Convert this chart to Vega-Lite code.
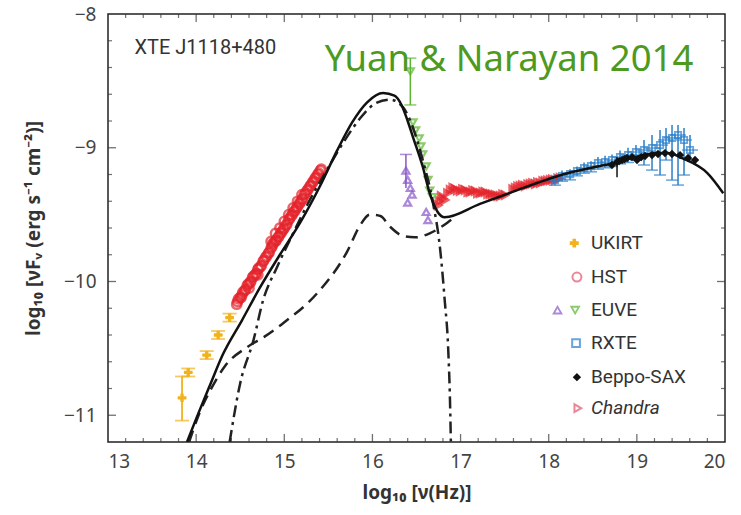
{
  "$schema": "https://vega.github.io/schema/vega-lite/v6.json",
  "width": 617,
  "height": 428,
  "autosize": {"type": "none"},
  "padding": {"left": 108, "top": 14, "right": 16, "bottom": 73},
  "background": "white",
  "config": {
    "view": {"stroke": "#222", "strokeWidth": 1.5},
    "axis": {"grid": false, "domain": false, "ticks": false, "labelFont": "Noto Sans", "labelFontSize": 19, "labelColor": "#444", "titleFont": "Noto Sans", "titleFontSize": 19, "titleFontWeight": "bold", "titleColor": "#333"}
  },
  "datasets": {
    "xmaj": [{"v":14,"edge":-11.2},{"v":15,"edge":-11.2},{"v":16,"edge":-11.2},{"v":17,"edge":-11.2},{"v":18,"edge":-11.2},{"v":19,"edge":-11.2},{"v":14,"edge":-8},{"v":15,"edge":-8},{"v":16,"edge":-8},{"v":17,"edge":-8},{"v":18,"edge":-8},{"v":19,"edge":-8}],
    "xmin": [{"v":13.2,"edge":-11.2},{"v":13.4,"edge":-11.2},{"v":13.6,"edge":-11.2},{"v":13.8,"edge":-11.2},{"v":14.2,"edge":-11.2},{"v":14.4,"edge":-11.2},{"v":14.6,"edge":-11.2},{"v":14.8,"edge":-11.2},{"v":15.2,"edge":-11.2},{"v":15.4,"edge":-11.2},{"v":15.6,"edge":-11.2},{"v":15.8,"edge":-11.2},{"v":16.2,"edge":-11.2},{"v":16.4,"edge":-11.2},{"v":16.6,"edge":-11.2},{"v":16.8,"edge":-11.2},{"v":17.2,"edge":-11.2},{"v":17.4,"edge":-11.2},{"v":17.6,"edge":-11.2},{"v":17.8,"edge":-11.2},{"v":18.2,"edge":-11.2},{"v":18.4,"edge":-11.2},{"v":18.6,"edge":-11.2},{"v":18.8,"edge":-11.2},{"v":19.2,"edge":-11.2},{"v":19.4,"edge":-11.2},{"v":19.6,"edge":-11.2},{"v":19.8,"edge":-11.2},
      {"v":13.2,"edge":-8},{"v":13.4,"edge":-8},{"v":13.6,"edge":-8},{"v":13.8,"edge":-8},{"v":14.2,"edge":-8},{"v":14.4,"edge":-8},{"v":14.6,"edge":-8},{"v":14.8,"edge":-8},{"v":15.2,"edge":-8},{"v":15.4,"edge":-8},{"v":15.6,"edge":-8},{"v":15.8,"edge":-8},{"v":16.2,"edge":-8},{"v":16.4,"edge":-8},{"v":16.6,"edge":-8},{"v":16.8,"edge":-8},{"v":17.2,"edge":-8},{"v":17.4,"edge":-8},{"v":17.6,"edge":-8},{"v":17.8,"edge":-8},{"v":18.2,"edge":-8},{"v":18.4,"edge":-8},{"v":18.6,"edge":-8},{"v":18.8,"edge":-8},{"v":19.2,"edge":-8},{"v":19.4,"edge":-8},{"v":19.6,"edge":-8},{"v":19.8,"edge":-8}],
    "ymaj": [{"v":-9,"edge":13},{"v":-10,"edge":13},{"v":-11,"edge":13},{"v":-9,"edge":20},{"v":-10,"edge":20},{"v":-11,"edge":20}],
    "ymin": [{"v":-8.2,"edge":13},{"v":-8.4,"edge":13},{"v":-8.6,"edge":13},{"v":-8.8,"edge":13},{"v":-9.2,"edge":13},{"v":-9.4,"edge":13},{"v":-9.6,"edge":13},{"v":-9.8,"edge":13},{"v":-10.2,"edge":13},{"v":-10.4,"edge":13},{"v":-10.6,"edge":13},{"v":-10.8,"edge":13},
      {"v":-8.2,"edge":20},{"v":-8.4,"edge":20},{"v":-8.6,"edge":20},{"v":-8.8,"edge":20},{"v":-9.2,"edge":20},{"v":-9.4,"edge":20},{"v":-9.6,"edge":20},{"v":-9.8,"edge":20},{"v":-10.2,"edge":20},{"v":-10.4,"edge":20},{"v":-10.6,"edge":20},{"v":-10.8,"edge":20}],
    "solid": [{"x":13.896,"y":-11.2},{"x":14.01,"y":-11.01},{"x":14.16,"y":-10.77},{"x":14.30,"y":-10.55},{"x":14.52,"y":-10.29},{"x":14.72,"y":-10.05},{"x":14.95,"y":-9.80},{"x":15.18,"y":-9.56},{"x":15.41,"y":-9.28},{"x":15.60,"y":-9.02},{"x":15.77,"y":-8.81},{"x":15.94,"y":-8.66},{"x":16.12,"y":-8.59},{"x":16.25,"y":-8.61},{"x":16.33,"y":-8.68},{"x":16.40,"y":-8.80},{"x":16.46,"y":-8.92},{"x":16.57,"y":-9.14},{"x":16.65,"y":-9.34},{"x":16.74,"y":-9.48},{"x":16.82,"y":-9.52},{"x":17.22,"y":-9.42},{"x":17.59,"y":-9.33},{"x":18.16,"y":-9.20},{"x":18.77,"y":-9.11},{"x":19.23,"y":-9.04},{"x":19.35,"y":-9.04},{"x":19.52,"y":-9.08},{"x":19.80,"y":-9.19},{"x":19.98,"y":-9.34}],
    "dashed": [{"x":13.92,"y":-11.2},{"x":14.04,"y":-10.98},{"x":14.18,"y":-10.79},{"x":14.33,"y":-10.63},{"x":14.58,"y":-10.49},{"x":14.78,"y":-10.41},{"x":14.99,"y":-10.31},{"x":15.37,"y":-10.09},{"x":15.71,"y":-9.78},{"x":15.86,"y":-9.58},{"x":15.97,"y":-9.50},{"x":16.09,"y":-9.51},{"x":16.20,"y":-9.59},{"x":16.35,"y":-9.66},{"x":16.48,"y":-9.67},{"x":16.65,"y":-9.64},{"x":16.85,"y":-9.56},{"x":16.95,"y":-9.51}],
    "dashdot": [{"x":14.38,"y":-11.2},{"x":14.50,"y":-10.76},{"x":14.65,"y":-10.44},{"x":14.76,"y":-10.14},{"x":14.92,"y":-9.89},{"x":15.10,"y":-9.64},{"x":15.29,"y":-9.39},{"x":15.48,"y":-9.17},{"x":15.69,"y":-8.94},{"x":15.86,"y":-8.78},{"x":16.03,"y":-8.67},{"x":16.20,"y":-8.64},{"x":16.35,"y":-8.70},{"x":16.46,"y":-8.85},{"x":16.57,"y":-9.09},{"x":16.68,"y":-9.39},{"x":16.77,"y":-9.77},{"x":16.82,"y":-10.14},{"x":16.86,"y":-10.51},{"x":16.88,"y":-10.89},{"x":16.89,"y":-11.2}],
    "ukirt": [{"x":13.84,"y":-10.87,"ylo":-11.04,"yhi":-10.71,"xlo":13.79,"xhi":13.89},{"x":13.91,"y":-10.68,"ylo":-10.71,"yhi":-10.65,"xlo":13.86,"xhi":13.96},{"x":14.12,"y":-10.55,"ylo":-10.58,"yhi":-10.52,"xlo":14.07,"xhi":14.17},{"x":14.25,"y":-10.40,"ylo":-10.43,"yhi":-10.37,"xlo":14.20,"xhi":14.30},{"x":14.38,"y":-10.27,"ylo":-10.30,"yhi":-10.24,"xlo":14.33,"xhi":14.43}],
    "hst": [{"x":14.46,"y":-10.17},{"x":14.47,"y":-10.15},{"x":14.48,"y":-10.13},{"x":14.50,"y":-10.12},{"x":14.51,"y":-10.12},{"x":14.52,"y":-10.10},{"x":14.53,"y":-10.08},{"x":14.55,"y":-10.07},{"x":14.56,"y":-10.06},{"x":14.58,"y":-10.03},{"x":14.59,"y":-10.02},{"x":14.61,"y":-10.01},{"x":14.62,"y":-10.00},{"x":14.64,"y":-9.97},{"x":14.65,"y":-9.96},{"x":14.67,"y":-9.95},{"x":14.68,"y":-9.94},{"x":14.70,"y":-9.91},{"x":14.71,"y":-9.90},{"x":14.73,"y":-9.89},{"x":14.74,"y":-9.88},{"x":14.76,"y":-9.85},{"x":14.77,"y":-9.84},{"x":14.79,"y":-9.82},{"x":14.80,"y":-9.81},{"x":14.82,"y":-9.79},{"x":14.83,"y":-9.78},{"x":14.85,"y":-9.75},{"x":14.86,"y":-9.74},{"x":14.87,"y":-9.72},{"x":14.88,"y":-9.71},{"x":14.90,"y":-9.70},{"x":14.91,"y":-9.69},{"x":14.93,"y":-9.67},{"x":14.94,"y":-9.66},{"x":14.96,"y":-9.64},{"x":14.97,"y":-9.63},{"x":14.99,"y":-9.61},{"x":15.00,"y":-9.60},{"x":15.02,"y":-9.58},{"x":15.03,"y":-9.57},{"x":15.05,"y":-9.54},{"x":15.06,"y":-9.53},{"x":15.08,"y":-9.51},{"x":15.09,"y":-9.50},{"x":15.11,"y":-9.48},{"x":15.12,"y":-9.47},{"x":15.14,"y":-9.45},{"x":15.15,"y":-9.44},{"x":15.17,"y":-9.42},{"x":15.18,"y":-9.41},{"x":15.20,"y":-9.39},{"x":15.21,"y":-9.38},{"x":15.23,"y":-9.35},{"x":15.24,"y":-9.34},{"x":15.26,"y":-9.32},{"x":15.27,"y":-9.31},{"x":15.29,"y":-9.29},{"x":15.30,"y":-9.28},{"x":15.32,"y":-9.26},{"x":15.33,"y":-9.25},{"x":15.35,"y":-9.23},{"x":15.36,"y":-9.22},{"x":15.38,"y":-9.20},{"x":15.39,"y":-9.19},{"x":15.41,"y":-9.17},{"x":15.42,"y":-9.16},{"x":14.85,"y":-9.70},{"x":14.90,"y":-9.64},{"x":14.95,"y":-9.60},{"x":15.00,"y":-9.55},{"x":15.05,"y":-9.50},{"x":15.10,"y":-9.45},{"x":15.15,"y":-9.40},{"x":15.20,"y":-9.35},{"x":14.60,"y":-10.05},{"x":14.70,"y":-9.95}],
    "euveg": [{"x":16.43,"y":-8.43,"ylo":-8.68,"yhi":-8.33},{"x":16.46,"y":-8.81},{"x":16.49,"y":-8.87},{"x":16.53,"y":-8.93},{"x":16.55,"y":-8.99},{"x":16.57,"y":-9.05},{"x":16.61,"y":-9.14},{"x":16.63,"y":-9.24},{"x":16.65,"y":-9.32},{"x":16.68,"y":-9.37}],
    "euvep": [{"x":16.38,"y":-9.17,"ylo":-9.30,"yhi":-9.05},{"x":16.40,"y":-9.24},{"x":16.43,"y":-9.30},{"x":16.45,"y":-9.35},{"x":16.40,"y":-9.41},{"x":16.61,"y":-9.48},{"x":16.63,"y":-9.54}],
    "chandra": [{"x":16.744,"y":-9.429},{"x":16.76,"y":-9.40},{"x":16.778,"y":-9.361},{"x":16.80,"y":-9.38},{"x":16.823,"y":-9.391},{"x":16.85,"y":-9.34},{"x":16.88,"y":-9.316},{"x":16.91,"y":-9.30},{"x":16.937,"y":-9.309},{"x":16.96,"y":-9.32},{"x":16.994,"y":-9.324},{"x":17.02,"y":-9.31},{"x":17.05,"y":-9.316},{"x":17.08,"y":-9.33},{"x":17.107,"y":-9.331},{"x":17.135,"y":-9.32},{"x":17.164,"y":-9.324},{"x":17.19,"y":-9.34},{"x":17.221,"y":-9.339},{"x":17.25,"y":-9.33},{"x":17.277,"y":-9.331},{"x":17.305,"y":-9.345},{"x":17.334,"y":-9.346},{"x":17.36,"y":-9.35},{"x":17.391,"y":-9.354},{"x":17.42,"y":-9.36},{"x":17.448,"y":-9.361},{"x":17.475,"y":-9.35},{"x":17.504,"y":-9.354},{"x":17.59,"y":-9.31},{"x":17.618,"y":-9.301},{"x":17.645,"y":-9.29},{"x":17.674,"y":-9.286},{"x":17.70,"y":-9.28},{"x":17.731,"y":-9.286},{"x":17.76,"y":-9.275},{"x":17.788,"y":-9.271},{"x":17.815,"y":-9.265},{"x":17.845,"y":-9.271},{"x":17.87,"y":-9.26},{"x":17.901,"y":-9.264},{"x":17.93,"y":-9.25},{"x":17.958,"y":-9.249},{"x":17.985,"y":-9.245},{"x":18.015,"y":-9.242},{"x":18.04,"y":-9.238},{"x":18.071,"y":-9.242},{"x":18.10,"y":-9.23},{"x":18.128,"y":-9.227}],
    "rxte": [{"x":18.071,"y":-9.242,"ylo":-9.28,"yhi":-9.20},{"x":18.151,"y":-9.212,"ylo":-9.25,"yhi":-9.17},{"x":18.242,"y":-9.197,"ylo":-9.24,"yhi":-9.16},{"x":18.321,"y":-9.174,"ylo":-9.21,"yhi":-9.14},{"x":18.401,"y":-9.152,"ylo":-9.19,"yhi":-9.11},{"x":18.48,"y":-9.137,"ylo":-9.18,"yhi":-9.10},{"x":18.559,"y":-9.114,"ylo":-9.16,"yhi":-9.07},{"x":18.639,"y":-9.107,"ylo":-9.15,"yhi":-9.06},{"x":18.718,"y":-9.092,"ylo":-9.14,"yhi":-9.05},{"x":18.809,"y":-9.07,"ylo":-9.12,"yhi":-9.02},{"x":18.90,"y":-9.055,"ylo":-9.11,"yhi":-9.00},{"x":18.99,"y":-9.032,"ylo":-9.092,"yhi":-8.98},{"x":19.081,"y":-9.017,"ylo":-9.129,"yhi":-8.942},{"x":19.172,"y":-9.002,"ylo":-9.167,"yhi":-8.905},{"x":19.263,"y":-8.98,"ylo":-9.204,"yhi":-8.868},{"x":19.331,"y":-8.942,"ylo":-9.092,"yhi":-8.853},{"x":19.399,"y":-8.927,"ylo":-9.242,"yhi":-8.83},{"x":19.467,"y":-8.905,"ylo":-9.279,"yhi":-8.83},{"x":19.535,"y":-8.942,"ylo":-9.204,"yhi":-8.853},{"x":19.603,"y":-9.017,"ylo":-9.092,"yhi":-8.905}],
    "sax": [{"x":18.718,"y":-9.129},{"x":18.775,"y":-9.107,"ylo":-9.22,"yhi":-9.07},{"x":18.80,"y":-9.10},{"x":18.832,"y":-9.092},{"x":18.86,"y":-9.085},{"x":18.888,"y":-9.077},{"x":18.945,"y":-9.07},{"x":19.002,"y":-9.092},{"x":19.05,"y":-9.07},{"x":19.093,"y":-9.062},{"x":19.172,"y":-9.055},{"x":19.24,"y":-9.047},{"x":19.319,"y":-9.04},{"x":19.399,"y":-9.047},{"x":19.49,"y":-9.055},{"x":19.581,"y":-9.077},{"x":19.66,"y":-9.092}],
    "legend": [{"label":"UKIRT","sx":18.29,"lx":18.48,"y":-9.713},{"label":"HST","sx":18.32,"lx":18.48,"y":-9.967},{"label":"EUVE","sx":18.30,"sx2":18.10,"lx":18.48,"y":-10.214},{"label":"RXTE","sx":18.31,"lx":18.48,"y":-10.461},{"label":"Beppo-SAX","sx":18.32,"lx":18.48,"y":-10.715},{"label":"Chandra","sx":18.33,"lx":18.48,"y":-10.947}],
    "notes": [{"text":"XTE J1118+480","x":13.3,"y":-8.254},{"text":"Yuan & Narayan 2014","x":15.46,"y":-8.344}]
  },
  "layer": [
    {
      "data": {"name": "hst"},
      "mark": {"type": "point", "shape": "circle", "filled": false, "stroke": "#e5232b", "strokeWidth": 2.5, "size": 85, "clip": true},
      "encoding": {
        "x": {"field": "x", "type": "quantitative", "scale": {"domain": [13, 20], "nice": false, "zero": false}, "axis": {"orient": "bottom", "values": [13,14,15,16,17,18,19,20], "format": "d", "labelPadding": 10, "title": "log₁₀ [ν(Hz)]", "titlePadding": 12}},
        "y": {"field": "y", "type": "quantitative", "scale": {"domain": [-11.2, -8], "nice": false, "zero": false}, "axis": {"orient": "left", "values": [-8,-9,-10,-11], "format": "d", "labelPadding": 12, "title": "log₁₀ [νFᵥ (erg s⁻¹ cm⁻²)]", "titlePadding": 20}}
      }
    },
    {
      "data": {"name": "xmaj"},
      "mark": {"type": "tick", "orient": "vertical", "color": "#333", "size": 16, "thickness": 1.3, "clip": true},
      "encoding": {"x": {"field": "v", "type": "quantitative"}, "y": {"field": "edge", "type": "quantitative"}}
    },
    {
      "data": {"name": "xmin"},
      "mark": {"type": "tick", "orient": "vertical", "color": "#333", "size": 8, "thickness": 1.2, "clip": true},
      "encoding": {"x": {"field": "v", "type": "quantitative"}, "y": {"field": "edge", "type": "quantitative"}}
    },
    {
      "data": {"name": "ymaj"},
      "mark": {"type": "tick", "orient": "horizontal", "color": "#333", "size": 16, "thickness": 1.3, "clip": true},
      "encoding": {"y": {"field": "v", "type": "quantitative"}, "x": {"field": "edge", "type": "quantitative"}}
    },
    {
      "data": {"name": "ymin"},
      "mark": {"type": "tick", "orient": "horizontal", "color": "#333", "size": 8, "thickness": 1.2, "clip": true},
      "encoding": {"y": {"field": "v", "type": "quantitative"}, "x": {"field": "edge", "type": "quantitative"}}
    },
    {
      "data": {"name": "chandra"},
      "mark": {"type": "point", "shape": "triangle-right", "filled": false, "stroke": "#e5232b", "strokeWidth": 3, "size": 40},
      "encoding": {"x": {"field": "x", "type": "quantitative"}, "y": {"field": "y", "type": "quantitative"}}
    },
    {
      "data": {"name": "ukirt"},
      "mark": {"type": "rule", "color": "#f2b21c", "strokeWidth": 1.8},
      "encoding": {"x": {"field": "x", "type": "quantitative"}, "y": {"field": "ylo", "type": "quantitative"}, "y2": {"field": "yhi"}}
    },
    {
      "data": {"name": "ukirt"},
      "mark": {"type": "tick", "orient": "horizontal", "color": "#f2b21c", "size": 14, "thickness": 1.8},
      "encoding": {"x": {"field": "x", "type": "quantitative"}, "y": {"field": "ylo", "type": "quantitative"}}
    },
    {
      "data": {"name": "ukirt"},
      "mark": {"type": "tick", "orient": "horizontal", "color": "#f2b21c", "size": 14, "thickness": 1.8},
      "encoding": {"x": {"field": "x", "type": "quantitative"}, "y": {"field": "yhi", "type": "quantitative"}}
    },
    {
      "data": {"name": "ukirt"},
      "mark": {"type": "rule", "color": "#f2b21c", "strokeWidth": 1.8},
      "encoding": {"x": {"field": "xlo", "type": "quantitative"}, "x2": {"field": "xhi"}, "y": {"field": "y", "type": "quantitative"}}
    },
    {
      "data": {"name": "ukirt"},
      "mark": {"type": "point", "shape": "cross", "filled": true, "color": "#f2b21c", "opacity": 1, "size": 70},
      "encoding": {"x": {"field": "x", "type": "quantitative"}, "y": {"field": "y", "type": "quantitative"}}
    },
    {
      "data": {"name": "euveg"},
      "mark": {"type": "rule", "color": "#5cb531", "strokeWidth": 1.5},
      "encoding": {"x": {"field": "x", "type": "quantitative"}, "y": {"field": "ylo", "type": "quantitative"}, "y2": {"field": "yhi"}}
    },
    {
      "data": {"name": "euveg"},
      "mark": {"type": "tick", "orient": "horizontal", "color": "#5cb531", "size": 12, "thickness": 1.5},
      "encoding": {"x": {"field": "x", "type": "quantitative"}, "y": {"field": "yhi", "type": "quantitative"}}
    },
    {
      "data": {"name": "euveg"},
      "mark": {"type": "tick", "orient": "horizontal", "color": "#5cb531", "size": 12, "thickness": 1.5},
      "encoding": {"x": {"field": "x", "type": "quantitative"}, "y": {"field": "ylo", "type": "quantitative"}}
    },
    {
      "data": {"name": "euveg"},
      "mark": {"type": "point", "shape": "triangle-down", "filled": false, "stroke": "#5cb531", "strokeWidth": 2.2, "size": 50},
      "encoding": {"x": {"field": "x", "type": "quantitative"}, "y": {"field": "y", "type": "quantitative"}}
    },
    {
      "data": {"name": "euvep"},
      "mark": {"type": "rule", "color": "#8856c8", "strokeWidth": 1.5},
      "encoding": {"x": {"field": "x", "type": "quantitative"}, "y": {"field": "ylo", "type": "quantitative"}, "y2": {"field": "yhi"}}
    },
    {
      "data": {"name": "euvep"},
      "mark": {"type": "tick", "orient": "horizontal", "color": "#8856c8", "size": 12, "thickness": 1.5},
      "encoding": {"x": {"field": "x", "type": "quantitative"}, "y": {"field": "yhi", "type": "quantitative"}}
    },
    {
      "data": {"name": "euvep"},
      "mark": {"type": "point", "shape": "triangle-up", "filled": false, "stroke": "#8856c8", "strokeWidth": 2.2, "size": 50},
      "encoding": {"x": {"field": "x", "type": "quantitative"}, "y": {"field": "y", "type": "quantitative"}}
    },
    {
      "data": {"name": "rxte"},
      "mark": {"type": "rule", "color": "#2a7fc9", "strokeWidth": 1.5},
      "encoding": {"x": {"field": "x", "type": "quantitative"}, "y": {"field": "ylo", "type": "quantitative"}, "y2": {"field": "yhi"}}
    },
    {
      "data": {"name": "rxte"},
      "mark": {"type": "tick", "orient": "horizontal", "color": "#2a7fc9", "size": 16, "thickness": 1.5},
      "encoding": {"x": {"field": "x", "type": "quantitative"}, "y": {"field": "y", "type": "quantitative"}}
    },
    {
      "data": {"name": "rxte"},
      "mark": {"type": "tick", "orient": "horizontal", "color": "#2a7fc9", "size": 12, "thickness": 1.5},
      "encoding": {"x": {"field": "x", "type": "quantitative"}, "y": {"field": "ylo", "type": "quantitative"}}
    },
    {
      "data": {"name": "rxte"},
      "mark": {"type": "point", "shape": "square", "filled": false, "stroke": "#2a7fc9", "strokeWidth": 1.8, "size": 40},
      "encoding": {"x": {"field": "x", "type": "quantitative"}, "y": {"field": "y", "type": "quantitative"}}
    },
    {
      "data": {"name": "sax"},
      "mark": {"type": "rule", "color": "#111", "strokeWidth": 1.5},
      "encoding": {"x": {"field": "x", "type": "quantitative"}, "y": {"field": "ylo", "type": "quantitative"}, "y2": {"field": "yhi"}}
    },
    {
      "data": {"name": "sax"},
      "mark": {"type": "point", "shape": "diamond", "filled": true, "color": "#111", "opacity": 1, "size": 70},
      "encoding": {"x": {"field": "x", "type": "quantitative"}, "y": {"field": "y", "type": "quantitative"}}
    },
    {
      "data": {"name": "dashed"},
      "mark": {"type": "line", "color": "#222", "strokeWidth": 2.5, "strokeDash": [12, 7], "interpolate": "monotone", "clip": true},
      "encoding": {"x": {"field": "x", "type": "quantitative"}, "y": {"field": "y", "type": "quantitative"}}
    },
    {
      "data": {"name": "dashdot"},
      "mark": {"type": "line", "color": "#222", "strokeWidth": 2.5, "strokeDash": [12, 5, 3, 5], "interpolate": "monotone", "clip": true},
      "encoding": {"x": {"field": "x", "type": "quantitative"}, "y": {"field": "y", "type": "quantitative"}}
    },
    {
      "data": {"name": "solid"},
      "mark": {"type": "line", "color": "#111", "strokeWidth": 2.5, "interpolate": "monotone", "clip": true},
      "encoding": {"x": {"field": "x", "type": "quantitative"}, "y": {"field": "y", "type": "quantitative"}}
    },
    {
      "data": {"name": "legend"},
      "transform": [{"filter": "datum.label === 'UKIRT'"}],
      "mark": {"type": "point", "shape": "cross", "filled": true, "color": "#f2b21c", "opacity": 1, "size": 80},
      "encoding": {"x": {"field": "sx", "type": "quantitative"}, "y": {"field": "y", "type": "quantitative"}}
    },
    {
      "data": {"name": "legend"},
      "transform": [{"filter": "datum.label === 'HST'"}],
      "mark": {"type": "point", "shape": "circle", "filled": false, "stroke": "#e2546a", "strokeWidth": 2, "size": 80},
      "encoding": {"x": {"field": "sx", "type": "quantitative"}, "y": {"field": "y", "type": "quantitative"}}
    },
    {
      "data": {"name": "legend"},
      "transform": [{"filter": "datum.label === 'EUVE'"}],
      "mark": {"type": "point", "shape": "triangle-down", "filled": false, "stroke": "#5cb531", "strokeWidth": 1.8, "size": 60},
      "encoding": {"x": {"field": "sx", "type": "quantitative"}, "y": {"field": "y", "type": "quantitative"}}
    },
    {
      "data": {"name": "legend"},
      "transform": [{"filter": "datum.label === 'EUVE'"}],
      "mark": {"type": "point", "shape": "triangle-up", "filled": false, "stroke": "#8856c8", "strokeWidth": 1.8, "size": 60},
      "encoding": {"x": {"field": "sx2", "type": "quantitative"}, "y": {"field": "y", "type": "quantitative"}}
    },
    {
      "data": {"name": "legend"},
      "transform": [{"filter": "datum.label === 'RXTE'"}],
      "mark": {"type": "point", "shape": "square", "filled": false, "stroke": "#2a7fc9", "strokeWidth": 2, "size": 60},
      "encoding": {"x": {"field": "sx", "type": "quantitative"}, "y": {"field": "y", "type": "quantitative"}}
    },
    {
      "data": {"name": "legend"},
      "transform": [{"filter": "datum.label === 'Beppo-SAX'"}],
      "mark": {"type": "point", "shape": "diamond", "filled": true, "color": "#111", "opacity": 1, "size": 70},
      "encoding": {"x": {"field": "sx", "type": "quantitative"}, "y": {"field": "y", "type": "quantitative"}}
    },
    {
      "data": {"name": "legend"},
      "transform": [{"filter": "datum.label === 'Chandra'"}],
      "mark": {"type": "point", "shape": "triangle-right", "filled": false, "stroke": "#e2546a", "strokeWidth": 2, "size": 60},
      "encoding": {"x": {"field": "sx", "type": "quantitative"}, "y": {"field": "y", "type": "quantitative"}}
    },
    {
      "data": {"name": "legend"},
      "transform": [{"filter": "datum.label !== 'Chandra'"}],
      "mark": {"type": "text", "align": "left", "baseline": "middle", "font": "Roboto", "fontSize": 19, "color": "#333"},
      "encoding": {"x": {"field": "lx", "type": "quantitative"}, "y": {"field": "y", "type": "quantitative"}, "text": {"field": "label"}}
    },
    {
      "data": {"name": "legend"},
      "transform": [{"filter": "datum.label === 'Chandra'"}],
      "mark": {"type": "text", "align": "left", "baseline": "middle", "font": "Roboto", "fontSize": 19, "fontStyle": "italic", "color": "#333"},
      "encoding": {"x": {"field": "lx", "type": "quantitative"}, "y": {"field": "y", "type": "quantitative"}, "text": {"field": "label"}}
    },
    {
      "data": {"name": "notes"},
      "transform": [{"filter": "datum.text === 'XTE J1118+480'"}],
      "mark": {"type": "text", "align": "left", "baseline": "middle", "font": "Roboto", "fontSize": 20, "color": "#333"},
      "encoding": {"x": {"field": "x", "type": "quantitative"}, "y": {"field": "y", "type": "quantitative"}, "text": {"field": "text"}}
    },
    {
      "data": {"name": "notes"},
      "transform": [{"filter": "datum.text !== 'XTE J1118+480'"}],
      "mark": {"type": "text", "align": "left", "baseline": "middle", "font": "Noto Sans", "fontSize": 36.5, "color": "#4d9a1e"},
      "encoding": {"x": {"field": "x", "type": "quantitative"}, "y": {"field": "y", "type": "quantitative"}, "text": {"field": "text"}}
    }
  ]
}
